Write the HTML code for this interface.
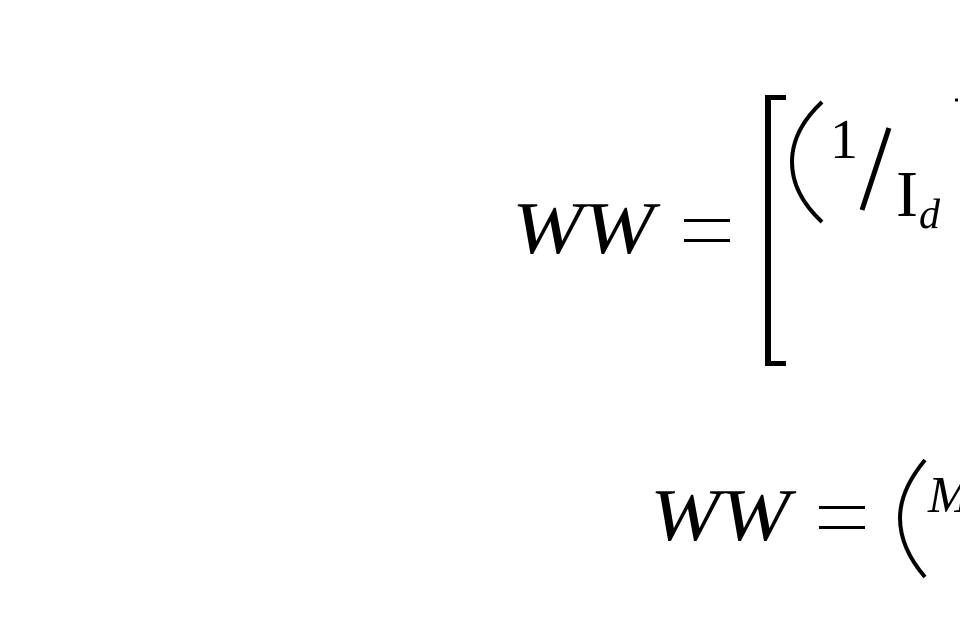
<!DOCTYPE html>
<html><head><meta charset="utf-8"><style>html,body{margin:0;padding:0;background:#fff}svg{display:block}</style></head>
<body>
<svg width="960" height="640" viewBox="0 0 960 640" xmlns="http://www.w3.org/2000/svg">
<g font-family="Liberation Serif, DejaVu Serif, serif" fill="#000">
<text x="512" y="253" font-size="74" font-style="italic" textLength="142" lengthAdjust="spacingAndGlyphs">WW</text>
<rect x="684" y="219" width="46" height="3"/>
<rect x="684" y="239" width="46" height="3"/>
<path d="M765 95 H786 V100 H771 V361 H786 V366 H765 Z"/>
<path d="M822 102 Q792 130 792 162 Q792 194 822 222" fill="none" stroke="#000" stroke-width="4"/>
<text x="830" y="158" font-size="56">1</text>
<path d="M889 128 L862 210" stroke="#000" stroke-width="5"/>
<text x="896" y="216" font-size="66">I</text>
<text x="919" y="228" font-size="42" font-style="italic">d</text>
<path d="M955 100 l3 0" stroke="#000" stroke-width="3"/>
<text x="650" y="540" font-size="74" font-style="italic" textLength="140" lengthAdjust="spacingAndGlyphs">WW</text>
<rect x="819" y="506" width="46" height="3"/>
<rect x="819" y="526" width="46" height="3"/>
<path d="M925 460 Q900 490 900 518 Q900 548 925 577" fill="none" stroke="#000" stroke-width="4"/>
<text x="928" y="512" font-size="52" font-style="italic">M</text>
</g>
</svg>
</body></html>
